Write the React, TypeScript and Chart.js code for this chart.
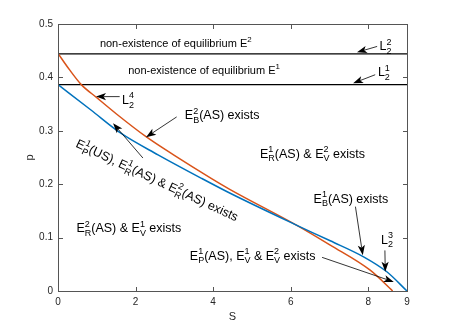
import React, { useEffect, useRef } from "react";
import { Chart, registerables } from "chart.js";

Chart.register(...registerables);

// ---- data ----
const S_BLUE = [0, 0.85, 1.63, 2.58, 3.7, 4.44, 6.16, 7.02, 7.88, 8.48, 9];
const P_BLUE = [0.3865, 0.339, 0.295, 0.255, 0.211, 0.183, 0.123, 0.094, 0.064, 0.036, 0];
const S_RED = [0, 0.3, 0.6, 1.0, 1.5, 2.27, 3.0, 3.95, 4.44, 6.16, 7.02, 8.05, 8.63];
const P_RED = [0.445, 0.414, 0.3865, 0.362, 0.332, 0.289, 0.254, 0.211, 0.19, 0.123, 0.086, 0.039, 0];
const P_L22 = 0.444;
const P_L21 = 0.3865;
const X_TICKS = [0, 2, 4, 6, 8, 9];
const Y_TICKS = [0, 0.1, 0.2, 0.3, 0.4, 0.5];

// annotations: text, S, p, align, rotation(deg), size
const LABEL_TEXT = [
  "non-existence of equilibrium E^2",
  "non-existence of equilibrium E^1",
  "L_2^2",
  "L_2^1",
  "L_2^4",
  "E_B^2(AS) exists",
  "E_P^1(US), E_R^1(AS) & E_R^2(AS) exists",
  "E_R^1(AS) & E_V^2 exists",
  "E_R^2(AS) & E_V^1 exists",
  "E_B^1(AS) exists",
  "L_2^3",
  "E_P^1(AS), E_V^1 & E_V^2 exists",
];
const LABEL_S = [1.08, 1.81, 8.29, 8.25, 1.65, 3.27, 2.56, 5.21, 0.475, 6.59, 8.33, 3.4];
const LABEL_P = [0.465, 0.413, 0.459, 0.4107, 0.359, 0.33, 0.208, 0.258, 0.118, 0.174, 0.097, 0.067];
const LABEL_ALIGN = ["left", "left", "left", "left", "left", "left", "center", "left", "left", "left", "left", "left"];
const LABEL_ROT = [0, 0, 0, 0, 0, 0, 25, 0, 0, 0, 0, 0];
const LABEL_SIZE = [11, 11, 12.5, 12.5, 12.5, 12.5, 12.5, 12.5, 12.5, 12.5, 12.5, 12.5];

// arrows: [S0, p0, S1(tip), p1(tip)]
const ARROWS = [
  [8.23, 0.458, 7.71, 0.447],
  [8.18, 0.405, 7.61, 0.389],
  [1.59, 0.364, 0.98, 0.364],
  [3.06, 0.326, 2.27, 0.288],
  [2.19, 0.249, 1.42, 0.314],
  [7.67, 0.158, 7.86, 0.067],
  [8.43, 0.076, 8.44, 0.036],
  [6.81, 0.063, 8.66, 0.017],
];

const FONT = '"Liberation Sans", Arial, Helvetica, sans-serif';

type Run = { base?: string; sub?: string; sup?: string };

function parseRich(s: string): Run[] {
  const runs: Run[] = [];
  let i = 0;
  while (i < s.length) {
    const c = s[i];
    if (c === "_" || c === "^") {
      let last = runs[runs.length - 1];
      if (!last || last.base !== undefined) {
        last = {};
        runs.push(last);
      }
      if (c === "_") last.sub = s[i + 1];
      else last.sup = s[i + 1];
      i += 2;
    } else {
      let last = runs[runs.length - 1];
      if (!last || last.base === undefined) {
        last = { base: "" };
        runs.push(last);
      }
      last.base += c;
      i += 1;
    }
  }
  return runs;
}

function drawRich(
  ctx: CanvasRenderingContext2D,
  text: string,
  x: number,
  y: number,
  size: number,
  align: string,
  rot: number
) {
  const runs = parseRich(text);
  const small = size * 0.72;
  const baseFont = `${size}px ${FONT}`;
  const smallFont = `${small}px ${FONT}`;
  const widths = runs.map((r) => {
    if (r.base !== undefined) {
      ctx.font = baseFont;
      return ctx.measureText(r.base).width;
    }
    ctx.font = smallFont;
    return Math.max(r.sub ? ctx.measureText(r.sub).width : 0, r.sup ? ctx.measureText(r.sup).width : 0);
  });
  const total = widths.reduce((a, b) => a + b, 0);
  ctx.save();
  ctx.translate(x, y);
  ctx.rotate((rot * Math.PI) / 180);
  ctx.fillStyle = "#000";
  ctx.textBaseline = "alphabetic";
  ctx.textAlign = "left";
  let cx = align === "center" ? -total / 2 : 0;
  const bl = size * 0.36;
  runs.forEach((r, k) => {
    if (r.base !== undefined) {
      ctx.font = baseFont;
      ctx.fillText(r.base, cx, bl);
    } else {
      ctx.font = smallFont;
      if (r.sub) ctx.fillText(r.sub, cx, bl + size * 0.3);
      if (r.sup) ctx.fillText(r.sup, cx, bl - size * 0.45);
    }
    cx += widths[k];
  });
  ctx.restore();
}

function drawArrow(ctx: CanvasRenderingContext2D, x0: number, y0: number, x1: number, y1: number) {
  const ang = Math.atan2(y1 - y0, x1 - x0);
  const L = 10;
  const W = 3.6;
  const back = 2.5;
  ctx.save();
  ctx.strokeStyle = "#000";
  ctx.fillStyle = "#000";
  ctx.lineWidth = 0.8;
  ctx.beginPath();
  ctx.moveTo(x0, y0);
  ctx.lineTo(x1 - Math.cos(ang) * (L - back), y1 - Math.sin(ang) * (L - back));
  ctx.stroke();
  ctx.translate(x1, y1);
  ctx.rotate(ang);
  ctx.beginPath();
  ctx.moveTo(0, 0);
  ctx.lineTo(-L, -W);
  ctx.lineTo(-L + back, 0);
  ctx.lineTo(-L, W);
  ctx.closePath();
  ctx.fill();
  ctx.restore();
}

const overlay = {
  id: "overlay",
  afterDraw(chart: any) {
    const ctx: CanvasRenderingContext2D = chart.ctx;
    const xs = chart.scales.x;
    const ys = chart.scales.y;
    const L = Math.round(xs.getPixelForValue(0));
    const R = Math.round(xs.getPixelForValue(9));
    const T = Math.round(ys.getPixelForValue(0.5));
    const B = Math.round(ys.getPixelForValue(0));
    ctx.save();
    ctx.fillStyle = "#555555";
    ctx.fillRect(L, T, R - L + 1, 1);
    ctx.fillRect(L, B, R - L + 1, 1);
    ctx.fillRect(L, T, 1, B - T + 1);
    ctx.fillRect(R, T, 1, B - T + 1);
    const tl = 4;
    X_TICKS.forEach((v) => {
      const px = Math.round(xs.getPixelForValue(v));
      ctx.fillRect(px, B - tl, 1, tl);
      ctx.fillRect(px, T + 1, 1, tl);
    });
    Y_TICKS.forEach((v) => {
      const py = Math.round(ys.getPixelForValue(v));
      ctx.fillRect(L + 1, py, tl, 1);
      ctx.fillRect(R - tl, py, tl, 1);
    });
    ctx.restore();

    ARROWS.forEach((a) => {
      drawArrow(
        ctx,
        xs.getPixelForValue(a[0]),
        ys.getPixelForValue(a[1]),
        xs.getPixelForValue(a[2]),
        ys.getPixelForValue(a[3])
      );
    });
    LABEL_TEXT.forEach((t, i) => {
      drawRich(
        ctx,
        t,
        xs.getPixelForValue(LABEL_S[i]),
        ys.getPixelForValue(LABEL_P[i]),
        LABEL_SIZE[i],
        LABEL_ALIGN[i],
        LABEL_ROT[i]
      );
    });
  },
};

export default function App() {
  const ref = useRef<HTMLCanvasElement | null>(null);
  useEffect(() => {
    document.body.style.margin = "0";
    const canvas = ref.current;
    if (!canvas) return;
    const tickFont = { family: FONT, size: 10 };
    const chart = new Chart(canvas, {
      type: "line",
      data: {
        datasets: [
          {
            data: S_BLUE.map((s, i) => ({ x: s, y: P_BLUE[i] })),
            borderColor: "#0072BD",
            borderWidth: 1.5,
            pointRadius: 0,
            cubicInterpolationMode: "monotone",
          },
          {
            data: S_RED.map((s, i) => ({ x: s, y: P_RED[i] })),
            borderColor: "#D95319",
            borderWidth: 1.5,
            pointRadius: 0,
            cubicInterpolationMode: "monotone",
          },
          {
            data: [
              { x: 0, y: P_L22 },
              { x: 9, y: P_L22 },
            ],
            borderColor: "#000",
            borderWidth: 1.2,
            pointRadius: 0,
          },
          {
            data: [
              { x: 0, y: P_L21 },
              { x: 9, y: P_L21 },
            ],
            borderColor: "#000",
            borderWidth: 1.2,
            pointRadius: 0,
          },
        ],
      } as any,
      options: {
        responsive: false,
        animation: false,
        layout: { padding: { left: 0, right: 43, top: 24, bottom: 0 } },
        plugins: { legend: { display: false }, tooltip: { enabled: false } },
        scales: {
          x: {
            type: "linear",
            min: 0,
            max: 9,
            grid: { display: false, drawTicks: false, tickLength: 0 },
            border: { display: false },
            afterBuildTicks: (s: any) => {
              s.ticks = X_TICKS.map((v) => ({ value: v }));
            },
            afterFit: (s: any) => {
              s.height = 36;
            },
            ticks: {
              autoSkip: false,
              maxRotation: 0,
              padding: 5,
              font: tickFont,
              color: "#262626",
              callback: (v: any) => String(v),
            },
            title: {
              display: true,
              text: "S",
              color: "#262626",
              font: { family: FONT, size: 11 },
              padding: { top: 0, bottom: 3 },
            },
          },
          y: {
            type: "linear",
            min: 0,
            max: 0.5,
            grid: { display: false, drawTicks: false, tickLength: 0 },
            border: { display: false },
            afterBuildTicks: (s: any) => {
              s.ticks = Y_TICKS.map((v) => ({ value: v }));
            },
            afterFit: (s: any) => {
              s.width = 58;
            },
            ticks: {
              padding: 5,
              font: tickFont,
              color: "#262626",
              callback: (v: any) => String(+Number(v).toFixed(1)),
            },
            title: {
              display: true,
              text: "p",
              color: "#262626",
              font: { family: FONT, size: 11 },
              padding: { top: 23, bottom: 0 },
            },
          },
        },
      } as any,
      plugins: [overlay],
    });
    return () => chart.destroy();
  }, []);
  return (
    <div style={{ width: 450, height: 327, background: "#fff" }}>
      <canvas ref={ref} width={450} height={327} style={{ display: "block" }} />
    </div>
  );
}
